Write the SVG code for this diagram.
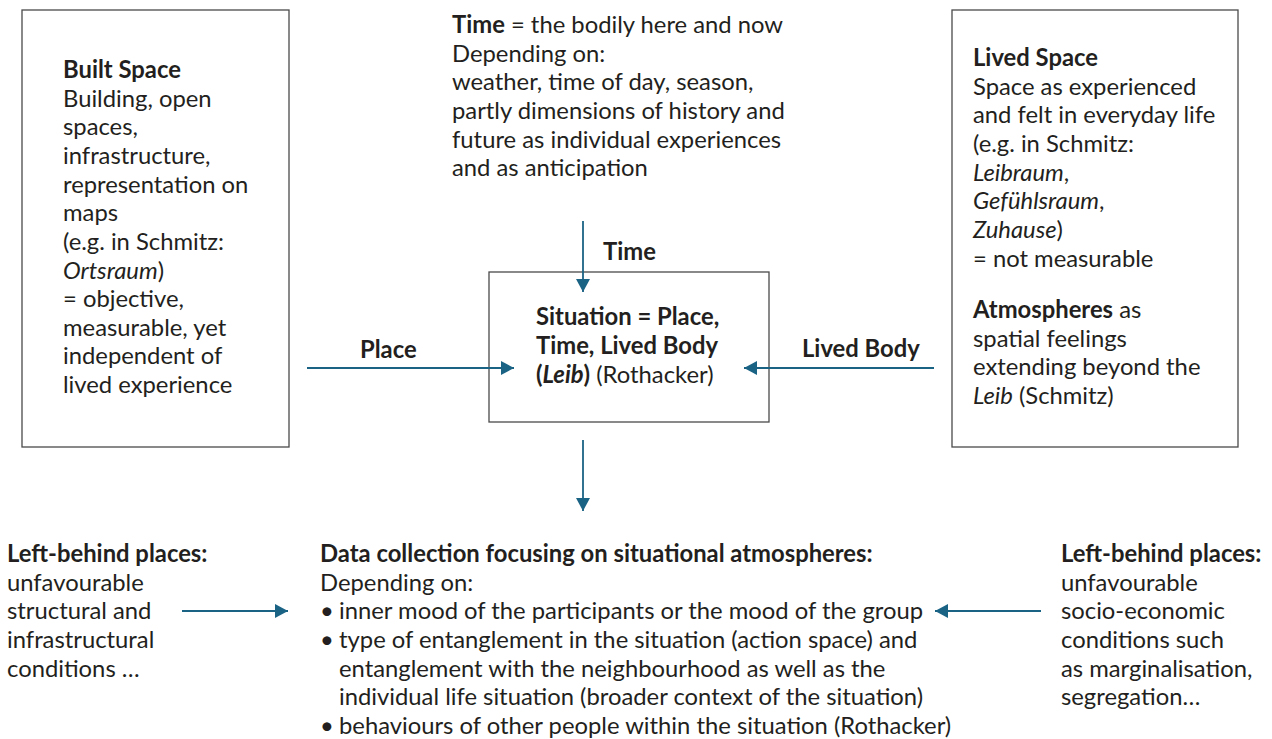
<svg xmlns="http://www.w3.org/2000/svg" width="1272" height="739" viewBox="0 0 1272 739">
<style>
text{font-family:Lato,"Liberation Sans",sans-serif;font-size:23.8px;fill:#231f20}
.b{font-weight:bold}
.i{font-style:italic}
.box{fill:none;stroke:#4a4a4a;stroke-width:1.3}
.arr{stroke:#1b6385;stroke-width:1.8;fill:none;marker-end:url(#ah)}
</style>
<defs>
<marker id="ah" markerUnits="userSpaceOnUse" markerWidth="14" markerHeight="14" refX="13" refY="7" orient="auto">
<path d="M0,0 L13,7 L0,14 z" fill="#1b6385"/>
</marker>
</defs>
<rect width="1272" height="739" fill="#fff"/>

<g id="built-space">
<rect class="box" x="22" y="10" width="267" height="437"/>
<text x="63" y="78"><tspan class="b">Built Space</tspan>
<tspan x="63" dy="28.65">Building, open</tspan>
<tspan x="63" dy="28.65">spaces,</tspan>
<tspan x="63" dy="28.65">infrastructure,</tspan>
<tspan x="63" dy="28.65">representation on</tspan>
<tspan x="63" dy="28.65">maps</tspan>
<tspan x="63" dy="28.65">(e.g. in Schmitz:</tspan>
<tspan x="63" dy="28.65"><tspan class="i">Ortsraum</tspan>)</tspan>
<tspan x="63" dy="28.65">= objective,</tspan>
<tspan x="63" dy="28.65">measurable, yet</tspan>
<tspan x="63" dy="28.65">independent of</tspan>
<tspan x="63" dy="28.65">lived experience</tspan></text>
</g>

<g id="time-text">
<text x="452" y="33"><tspan class="b">Time</tspan> = the bodily here and now
<tspan x="452" dy="28.65">Depending on:</tspan>
<tspan x="452" dy="28.65">weather, time of day, season,</tspan>
<tspan x="452" dy="28.65">partly dimensions of history and</tspan>
<tspan x="452" dy="28.65">future as individual experiences</tspan>
<tspan x="452" dy="28.65">and as anticipation</tspan></text>
</g>

<g id="situation">
<rect class="box" x="489" y="272" width="280" height="150"/>
<text x="536" y="325"><tspan class="b">Situation = Place,</tspan>
<tspan x="536" dy="28.9" class="b">Time, Lived Body</tspan>
<tspan x="536" dy="28.9"><tspan class="b">(<tspan class="i">Leib</tspan>)</tspan> (Rothacker)</tspan></text>
</g>

<g id="lived-space">
<rect class="box" x="952" y="10" width="286" height="437"/>
<text x="973" y="66"><tspan class="b">Lived Space</tspan>
<tspan x="973" dy="28.65">Space as experienced</tspan>
<tspan x="973" dy="28.65">and felt in everyday life</tspan>
<tspan x="973" dy="28.65">(e.g. in Schmitz:</tspan>
<tspan x="973" dy="28.65"><tspan class="i">Leibraum</tspan>,</tspan>
<tspan x="973" dy="28.65"><tspan class="i">Gefühlsraum</tspan>,</tspan>
<tspan x="973" dy="28.65"><tspan class="i">Zuhause</tspan>)</tspan>
<tspan x="973" dy="28.65">= not measurable</tspan>
<tspan x="973" dy="51.4"><tspan class="b">Atmospheres</tspan> as</tspan>
<tspan x="973" dy="28.65">spatial feelings</tspan>
<tspan x="973" dy="28.65">extending beyond the</tspan>
<tspan x="973" dy="28.65"><tspan class="i">Leib</tspan> (Schmitz)</tspan></text>
</g>

<g id="left-behind-structural">
<text x="7" y="562"><tspan class="b">Left-behind places:</tspan>
<tspan x="7" dy="28.65">unfavourable</tspan>
<tspan x="7" dy="28.65">structural and</tspan>
<tspan x="7" dy="28.65">infrastructural</tspan>
<tspan x="7" dy="28.65">conditions …</tspan></text>
</g>

<g id="data-collection">
<text x="320" y="562"><tspan class="b">Data collection focusing on situational atmospheres:</tspan>
<tspan x="320" dy="28.65">Depending on:</tspan>
<tspan x="320" dy="28.65">•</tspan><tspan x="339">inner mood of the participants or the mood of the group</tspan>
<tspan x="320" dy="28.65">•</tspan><tspan x="339">type of entanglement in the situation (action space) and</tspan>
<tspan x="339" dy="28.65">entanglement with the neighbourhood as well as the</tspan>
<tspan x="339" dy="28.65">individual life situation (broader context of the situation)</tspan>
<tspan x="320" dy="28.65">•</tspan><tspan x="339">behaviours of other people within the situation (Rothacker)</tspan></text>
</g>

<g id="left-behind-socio">
<text x="1061" y="562"><tspan class="b">Left-behind places:</tspan>
<tspan x="1061" dy="28.65">unfavourable</tspan>
<tspan x="1061" dy="28.65">socio-economic</tspan>
<tspan x="1061" dy="28.65">conditions such</tspan>
<tspan x="1061" dy="28.65">as marginalisation,</tspan>
<tspan x="1061" dy="28.65">segregation…</tspan></text>
</g>

<g id="connectors">
<line class="arr" x1="583" y1="221" x2="583" y2="292"/>
<line class="arr" x1="307" y1="368" x2="514" y2="368"/>
<line class="arr" x1="934" y1="368" x2="744" y2="368"/>
<line class="arr" x1="583" y1="440" x2="583" y2="511"/>
<line class="arr" x1="182" y1="611" x2="288" y2="611"/>
<line class="arr" x1="1041" y1="611" x2="935" y2="611"/>
<text class="b" x="603" y="260">Time</text>
<text class="b" x="360" y="358">Place</text>
<text class="b" x="802" y="357">Lived Body</text>
</g>
</svg>
